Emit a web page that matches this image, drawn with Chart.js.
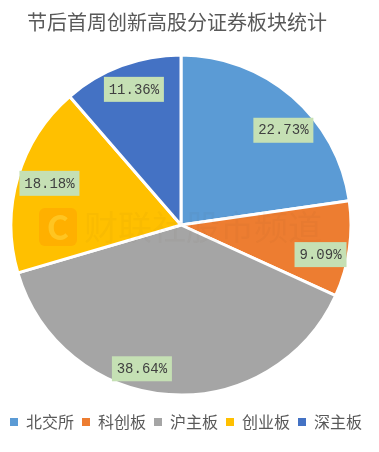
<!DOCTYPE html>
<html lang="zh">
<head>
<meta charset="utf-8">
<style>html,body{margin:0;padding:0;background:#fff}canvas{display:block}</style>
<script src="https://cdn.jsdelivr.net/npm/chart.js@4"></script>
</head>
<body>
<canvas id="c" width="379" height="452"></canvas>
<script>
const titleText = '节后首周创新高股分证券板块统计';
const categories = ['北交所', '科创板', '沪主板', '创业板', '深主板'];
const shares = [22.73, 9.09, 38.64, 18.18, 11.36];
const colors = ['#5B9BD5', '#ED7D31', '#A5A5A5', '#FFC000', '#4472C4'];
const labelShifts = [[46.7, -30.5], [55.4, 17.5], [-33, 59], [-50, -17.7], [-17.4, -56]];
const cjk = '"Noto Sans CJK SC", sans-serif';

const overlay = {
  id: 'overlay',
  afterLayout(chart) {
    chart.titleBlock.left = 27;
    chart.legend.left = 2;
    chart.chartArea.right = chart.chartArea.left + 362;
    chart.chartArea.width = 362;
    chart.chartArea.top = 42;
    chart.chartArea.bottom = 408;
    chart.chartArea.height = 366;
  },
  afterDatasetsDraw(chart) {
    const ctx = chart.ctx;
    const arcs = chart.getDatasetMeta(0).data;
    ctx.save();
    ctx.textAlign = 'center';
    ctx.textBaseline = 'middle';
    arcs.forEach((arc, i) => {
      const p = arc.getCenterPoint();
      const x = p.x + labelShifts[i][0], y = p.y + labelShifts[i][1];
      const text = shares[i].toFixed(2) + '%';
      const w = i === 1 ? 52 : 60;
      ctx.fillStyle = '#C5E0B4';
      ctx.fillRect(x - w / 2, y - 12.5, w, 25);
      ctx.fillStyle = '#404040';
      ctx.font = '14px "Liberation Mono", monospace';
      ctx.fillText(text, x, y + 0.5);
    });
    const cx = arcs[0].x, cy = arcs[0].y;
    ctx.fillStyle = 'rgba(255,160,0,0.5)';
    ctx.beginPath();
    ctx.roundRect(cx - 142, cy - 17, 38, 38, 6);
    ctx.fill();
    ctx.fillStyle = 'rgba(255,215,60,0.55)';
    ctx.font = 'bold 34px ' + cjk;
    ctx.fillText('C', cx - 123, cy + 2);
    ctx.fillStyle = 'rgba(90,70,30,0.035)';
    ctx.font = '34px ' + cjk;
    ctx.textAlign = 'left';
    ctx.fillText('财联社股市频道', cx - 97, cy + 2);
    ctx.restore();
  }
};

new Chart(document.getElementById('c'), {
  type: 'pie',
  data: {
    labels: categories,
    datasets: [{
      data: shares,
      backgroundColor: colors,
      borderColor: '#ffffff',
      borderWidth: 3,
      radius: 170
    }]
  },
  options: {
    responsive: false,
    animation: false,
    layout: { padding: { left: 0, right: 0, top: 0, bottom: 12 } },
    plugins: {
      tooltip: { enabled: false },
      title: {
        display: true,
        text: titleText,
        align: 'start',
        color: '#595959',
        font: { family: cjk, size: 20, weight: 'normal' },
        padding: { top: 10, bottom: 10 }
      },
      legend: {
        position: 'bottom',
        align: 'start',
        labels: {
          boxWidth: 8,
          boxHeight: 8,
          padding: 8,
          color: '#595959',
          font: { family: cjk, size: 16 },
          generateLabels(chart) {
            return Chart.overrides.pie.plugins.legend.labels.generateLabels(chart)
              .map(item => Object.assign(item, { lineWidth: 0, strokeStyle: item.fillStyle }));
          }
        }
      }
    }
  },
  plugins: [overlay]
});
</script>
</body>
</html>
